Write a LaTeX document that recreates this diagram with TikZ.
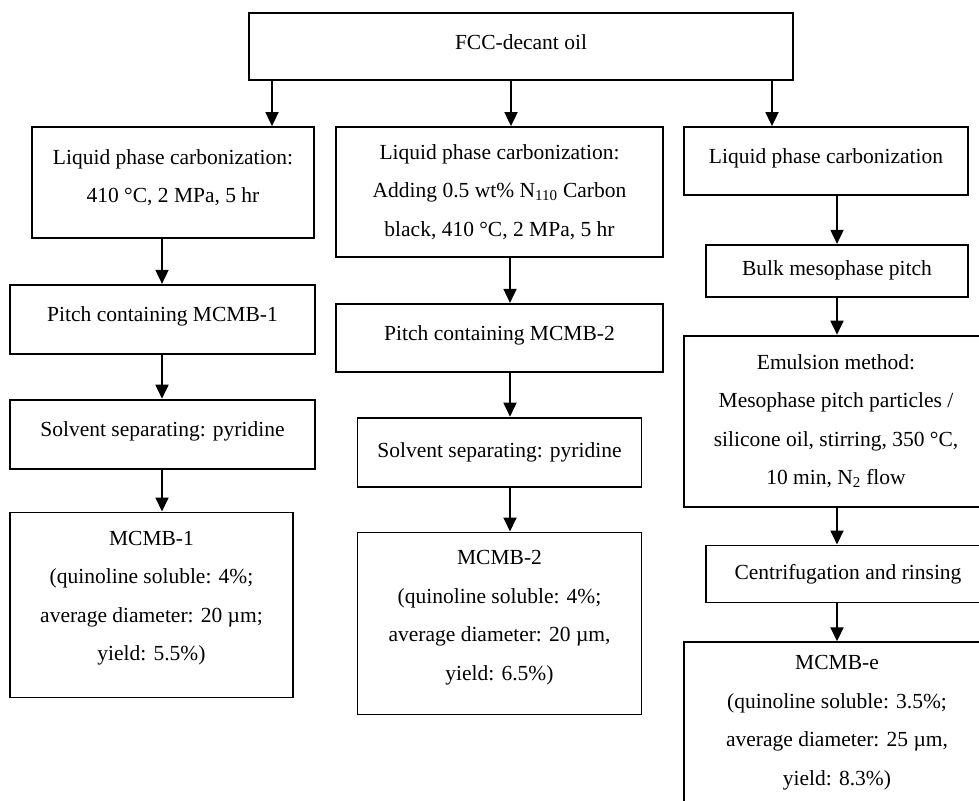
\documentclass[tikz,border=0pt]{standalone}
\usepackage{fontspec}
\setmainfont{Liberation Serif}
\usetikzlibrary{arrows.meta,positioning}
\tikzstyle{stage}=[
	rectangle,
	draw=black,
	line width=1.8pt,
	inner sep=0pt,
	align=center,
	font=\fontsize{21.5}{38.5}\selectfont]
\tikzstyle{flow}=[
	->,
	line width=1.8pt]

\begin{document}
\begin{tikzpicture}[x=1pt,y=-1pt,>={Triangle[length=14pt,width=13pt]}]
	\useasboundingbox (0,0) rectangle (979,800);
	\clip (0,0) rectangle (979,800);
	% arrow columns
	\coordinate (ca) at (272,0);
	\coordinate (cb) at (511,0);
	\coordinate (cc) at (772,0);
	\coordinate (c1) at (162,0);
	\coordinate (c2) at (510,0);
	\coordinate (c3) at (837,0);
	\node[stage,minimum width=544pt,minimum height=67pt]	(oil)	at (521,46.5)	{FCC-decant oil\\[-30pt]};
	% column 1
	\node[stage,minimum width=282pt,minimum height=111pt]	(lpc1)	at (173,182.5)	{Liquid phase carbonization:\\410 °C, 2 MPa, 5 hr\\[-26pt]};
	\node[stage,minimum width=305pt,minimum height=69pt]	(pitch1)	[below=45pt of lpc1,xshift=-10.5pt]	{Pitch containing MCMB-1\\[-28pt]};
	\node[stage,minimum width=305pt,minimum height=69pt]	(sol1)	[below=44pt of pitch1]	{Solvent separating: pyridine\\[-28pt]};
	\node[stage,minimum width=283pt,minimum height=185pt]	(mcmb1)	[below=42pt of sol1,xshift=-11pt]	{MCMB-1\\(quinoline soluble: 4\%;\\average diameter: 20 µm;\\yield: 5.5\%)\\[-20pt]};
	% column 2
	\node[stage,minimum width=327pt,minimum height=130pt]	(lpc2)	at (499.5,192)	{Liquid phase carbonization:\\Adding 0.5 wt\% N\textsubscript{110} Carbon\\black, 410 °C, 2 MPa, 5 hr};
	\node[stage,minimum width=327pt,minimum height=68pt]	(pitch2)	[below=45pt of lpc2]	{Pitch containing MCMB-2\\[-28pt]};
	\node[stage,minimum width=284pt,minimum height=69pt]	(sol2)	[below=44pt of pitch2]	{Solvent separating: pyridine};
	\node[stage,minimum width=284pt,minimum height=182pt]	(mcmb2)	[below=44pt of sol2]	{MCMB-2\\(quinoline soluble: 4\%;\\average diameter: 20 µm,\\yield: 6.5\%)\\[-22pt]};
	% column 3
	\node[stage,minimum width=284pt,minimum height=68pt]	(lpc3)	at (826,161)	{Liquid phase carbonization\\[-28pt]};
	\node[stage,minimum width=262pt,minimum height=52pt]	(bulk)	[below=48pt of lpc3,xshift=11pt]	{Bulk mesophase pitch};
	\node[stage,minimum width=304pt,minimum height=171pt]	(emul)	[below=37pt of bulk,xshift=-1pt]	{Emulsion method:\\Mesophase pitch particles /\\silicone oil, stirring, 350 °C,\\10 min, N\textsubscript{2} flow};
	\node[stage,minimum width=284pt,minimum height=57pt]	(cent)	[below=37pt of emul,xshift=12pt]	{Centrifugation and rinsing};
	\node[stage,minimum width=306pt,minimum height=185pt]	(mcmbe)	[below=38pt of cent,xshift=-11pt]	{MCMB-e\\(quinoline soluble: 3.5\%;\\average diameter: 25 µm,\\yield: 8.3\%)\\[-10pt]};
	% arrows
	\draw[flow] (oil.south -| ca) -- (lpc1.north -| ca);
	\draw[flow] (oil.south -| cb) -- (lpc2.north -| cb);
	\draw[flow] (oil.south -| cc) -- (lpc3.north -| cc);
	\draw[flow] (lpc1.south -| c1) -- (pitch1.north -| c1);
	\draw[flow] (pitch1.south -| c1) -- (sol1.north -| c1);
	\draw[flow] (sol1.south -| c1) -- (mcmb1.north -| c1);
	\draw[flow] (lpc2.south -| c2) -- (pitch2.north -| c2);
	\draw[flow] (pitch2.south -| c2) -- (sol2.north -| c2);
	\draw[flow] (sol2.south -| c2) -- (mcmb2.north -| c2);
	\draw[flow] (lpc3.south -| c3) -- (bulk.north -| c3);
	\draw[flow] (bulk.south -| c3) -- (emul.north -| c3);
	\draw[flow] (emul.south -| c3) -- (cent.north -| c3);
	\draw[flow] (cent.south -| c3) -- (mcmbe.north -| c3);
\end{tikzpicture}
\end{document}
